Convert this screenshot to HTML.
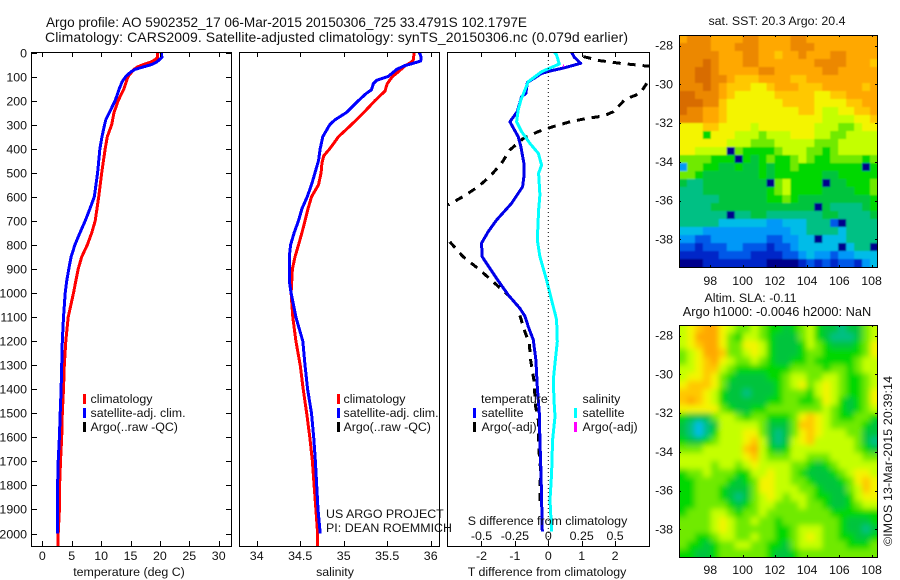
<!DOCTYPE html>
<html lang="en">
<head>
<meta charset="utf-8">
<title>Argo profile chart</title>
<style>
html,body{margin:0;padding:0;background:#fff;width:900px;height:580px;overflow:hidden}
svg{display:block;font-family:"Liberation Sans",sans-serif;font-size:12.4px;fill:#000}
text{fill:#111}
</style>
</head>
<body>
<svg id="chart" xmlns="http://www.w3.org/2000/svg" width="900" height="580" viewBox="0 0 900 580">
<defs>
<clipPath id="clip-tp"><rect x="32" y="52" width="199" height="494"/></clipPath>
<clipPath id="clip-sp"><rect x="239" y="52" width="200" height="494"/></clipPath>
<clipPath id="clip-dp"><rect x="447" y="52" width="202" height="494"/></clipPath>
<clipPath id="clip-sst"><rect x="679" y="35" width="199" height="232"/></clipPath>
<clipPath id="clip-sla"><rect x="679" y="325" width="199" height="232"/></clipPath>
<filter id="soften" x="-10%" y="-10%" width="120%" height="120%"><feGaussianBlur stdDeviation="3"/></filter>
<filter id="soften-light" x="-10%" y="-10%" width="120%" height="120%"><feGaussianBlur stdDeviation="0.8"/></filter>
</defs>
<g id="layer-heat"></g>
<g id="layer-lines"></g>
<g id="layer-axes"></g>

<text x="46" y="27" font-size="13.6" textLength="481" lengthAdjust="spacing">Argo profile: AO 5902352_17 06-Mar-2015 20150306_725 33.4791S 102.1797E</text>
<text x="45" y="42" font-size="14" textLength="583" lengthAdjust="spacing">Climatology: CARS2009. Satellite-adjusted climatology: synTS_20150306.nc (0.079d earlier)</text>

<text x="129" y="576" text-anchor="middle">temperature (deg C)</text>
<text x="335" y="576" text-anchor="middle">salinity</text>
<text x="547" y="576" text-anchor="middle">T difference from climatology</text>
<text x="547.5" y="525" text-anchor="middle">S difference from climatology</text>

<g>
<rect x="83" y="394" width="3" height="10" fill="#f00"/>
<text x="90.5" y="403">climatology</text>
<rect x="83" y="408" width="3" height="10" fill="#00f"/>
<text x="90.5" y="417">satellite-adj. clim.</text>
<rect x="83" y="422" width="3" height="10" fill="#000"/>
<text x="90.5" y="431">Argo(..raw -QC)</text>
</g>
<g>
<rect x="337" y="394" width="3" height="10" fill="#f00"/>
<text x="343.5" y="403">climatology</text>
<rect x="337" y="408" width="3" height="10" fill="#00f"/>
<text x="343.5" y="417">satellite-adj. clim.</text>
<rect x="337" y="422" width="3" height="10" fill="#000"/>
<text x="343.5" y="431">Argo(..raw -QC)</text>
</g>
<g>
<text x="481" y="403">temperature</text>
<rect x="473" y="408" width="3" height="10" fill="#00f"/>
<text x="481.5" y="417">satellite</text>
<rect x="473" y="422" width="3" height="10" fill="#000"/>
<text x="481.5" y="431">Argo(-adj)</text>
<text x="582.5" y="403">salinity</text>
<rect x="574" y="408" width="3" height="10" fill="#0ff"/>
<text x="582.5" y="417">satellite</text>
<rect x="574" y="422" width="3" height="10" fill="#f0f"/>
<text x="582.5" y="431">Argo(-adj)</text>
</g>

<text x="326" y="518">US ARGO PROJECT</text>
<text x="326" y="532" textLength="126" lengthAdjust="spacing">PI: DEAN ROEMMICH</text>

<text x="777" y="25" text-anchor="middle">sat. SST: 20.3 Argo: 20.4</text>
<text x="750.5" y="302" text-anchor="middle">Altim. SLA: -0.11</text>
<text x="777" y="316" text-anchor="middle" font-size="12.8">Argo h1000: -0.0046 h2000: NaN</text>
<text transform="translate(892,546) rotate(-90)" textLength="170" lengthAdjust="spacing">©IMOS 13-Mar-2015 20:39:14</text>
</svg>

<script>
// ---------- chart data ----------
const depthTicks = [0,100,200,300,400,500,600,700,800,900,1000,1100,1200,1300,1400,1500,1600,1700,1800,1900,2000];
const tempTicks = [0,5,10,15,20,25,30];
const tempTickLabels = ['0','5','10','15','20','25','30'];
const salTicks = [34,34.5,35,35.5,36];
const salTickLabels = ['34','34.5','35','35.5','36'];
const tDiffTicks = [-2,-1,0,1,2];
const tDiffTickLabels = ['-2','-1','0','1','2'];
const sDiffTicks = [-0.5,-0.25,0,0.25,0.5];
const sDiffTickLabels = ['-0.5','-0.25','0','0.25','0.5'];
const lonTicks = [98,100,102,104,106,108];
const latTicks = [-28,-30,-32,-34,-36,-38];

const climTempDepth = [0,20,30,40,50,60,70,100,150,200,250,300,350,400,500,600,700,750,800,850,900,950,1000,1100,1200,1300,1400,1500,1600,1700,1800,1900,2000,2052];
const climTempValue = [19.6,19.6,19.2,18.4,17.2,16.2,15.6,14.6,13.9,12.9,12.2,11.8,11.05,10.7,10.1,9.6,9.0,8.4,7.65,6.7,6.1,5.7,5.3,4.4,4.0,3.75,3.6,3.4,3.3,3.1,2.95,2.9,2.7,2.7];
const satTempDepth = [0,20,30,40,50,60,70,80,100,120,150,200,250,280,300,350,400,500,600,650,700,750,800,850,900,950,1000,1100,1200,1300,1400,1500,1600,1700,1800,1900,2000];
const satTempValue = [20.2,20.35,19.9,19.45,18.6,17.2,15.8,15.1,14.2,13.6,13.1,12.4,11.4,10.8,10.6,10.15,9.8,9.4,8.85,8.1,7.3,6.4,5.55,4.9,4.5,4.15,3.9,3.6,3.4,3.3,3.2,3.05,2.9,2.7,2.6,2.55,2.55];

const climSalDepth = [0,30,40,50,60,80,100,130,160,200,250,300,350,380,400,430,460,500,550,600,650,700,750,800,850,900,1000,1100,1200,1300,1400,1500,1600,1700,1800,1900,2000,2052];
const climSalValue = [35.81,35.8,35.78,35.73,35.69,35.63,35.56,35.5,35.475,35.36,35.23,35.09,34.94,34.88,34.84,34.77,34.75,34.74,34.71,34.63,34.59,34.555,34.52,34.48,34.44,34.41,34.395,34.415,34.45,34.5,34.535,34.575,34.61,34.64,34.66,34.68,34.7,34.7];
const satSalDepth = [0,20,35,45,55,70,100,115,130,155,170,200,250,280,300,350,400,450,500,550,600,650,700,750,800,850,950,1000,1100,1200,1300,1400,1500,1600,1700,1800,1900,2000];
const satSalValue = [35.87,35.89,35.885,35.8,35.7,35.61,35.51,35.38,35.34,35.32,35.26,35.17,35.03,34.9,34.84,34.76,34.73,34.71,34.67,34.63,34.58,34.52,34.48,34.43,34.39,34.375,34.375,34.395,34.45,34.53,34.555,34.585,34.63,34.655,34.675,34.69,34.705,34.73];

const argoTDiffDepthA = [17,34,45,52,60];
const argoTDiffValueA = [1.05,1.55,2.15,2.65,3.2];
const argoTDiffDepthB = [128,170,195,246,264,274,288,308,329,357,405,461,516,558,599,634];
const argoTDiffValueB = [2.95,2.75,2.3,1.95,1.65,1.15,0.65,0.15,-0.3,-0.75,-1.15,-1.4,-1.75,-2.1,-2.55,-3.0];
const argoTDiffDepthC = [787,849,904,960,1015,1064,1071,1161,1210,1279,1362,1473,1528,1653,1736,1819,1868];
const argoTDiffValueC = [-2.95,-2.55,-2.05,-1.6,-1.15,-0.85,-0.9,-0.7,-0.57,-0.53,-0.43,-0.38,-0.3,-0.28,-0.23,-0.25,-0.25];
const satTDiffDepth = [0,20,45,64,77,87,125,170,184,246,288,350,392,461,516,558,627,697,745,793,849,939,1008,1064,1096,1140,1195,1279,1390,1500,1611,1750,1860,1992];
const satTDiffValue = [0.7,0.78,0.97,0.47,0.05,-0.2,-0.63,-0.67,-0.8,-0.93,-1.15,-0.9,-0.82,-0.73,-0.73,-0.77,-1.1,-1.55,-1.8,-2.0,-1.98,-1.55,-1.2,-0.85,-0.7,-0.6,-0.45,-0.37,-0.33,-0.27,-0.25,-0.22,-0.2,-0.18];
const argoSDiffDepth = [50,60];
const argoSDiffValue = [0.112,0.112];
const satSDiffDepth = [0,7,48,80,121,156,197,239,288,329,378,419,468,502,592,655,779,849,946,1029,1085,1112,1202,1292,1361,1445,1514,1611,1750,1860,1992];
const satSDiffValue = [0.045,0.06,0.0825,-0.05,-0.15,-0.175,-0.205,-0.225,-0.2375,-0.2,-0.1375,-0.075,-0.05,-0.0725,-0.0625,-0.0725,-0.0825,-0.0625,-0.0125,0.025,0.05,0.0625,0.0675,0.05,0.0375,0.0425,0.05,0.0325,0.025,0.0125,0.025];

const colorLevels = ['#00008c','#0028c8','#0058e8','#0098f8','#00bce8','#00c084','#00c43c','#00d800','#70ea00','#c4ff00','#f4f400','#ffc800','#ffa800','#ec8800','#d86c00'];

const sstRow00 = [12,13,13,13,12,12,12,12,13,13,12,12,12,12,13,13,12,12,12,12,12,12,12,12,12];
const sstRow01 = [13,13,13,13,12,12,12,13,13,13,12,12,12,12,13,13,13,12,12,12,12,12,12,12,12];
const sstRow02 = [13,13,13,13,13,12,12,12,13,13,12,12,11,12,12,13,12,12,12,13,13,12,12,12,12];
const sstRow03 = [13,13,13,14,13,12,12,12,13,13,12,12,12,12,12,12,12,13,13,13,13,12,12,12,11];
const sstRow04 = [13,13,14,14,13,12,12,12,12,12,13,13,12,12,12,12,12,12,13,13,12,12,12,12,12];
const sstRow05 = [13,13,14,14,13,13,12,11,11,11,12,12,12,12,11,11,12,12,12,12,12,12,12,12,12];
const sstRow06 = [13,13,13,14,13,12,11,11,11,10,10,11,12,12,12,11,11,11,12,12,12,12,12,11,12];
const sstRow07 = [14,14,13,13,13,12,11,10,10,10,10,10,11,11,11,11,11,10,10,11,11,12,12,12,12];
const sstRow08 = [14,14,14,13,13,11,10,10,10,10,10,10,10,11,11,11,11,10,10,10,10,11,11,12,12];
const sstRow09 = [14,13,13,12,12,11,10,10,10,10,10,10,10,10,10,11,11,10,9,9,10,10,11,11,12];
const sstRow10 = [13,13,13,12,12,11,10,10,10,10,10,10,10,10,10,10,10,10,9,9,9,9,10,10,11];
const sstRow11 = [10,10,10,11,11,10,10,10,10,9,10,10,10,10,10,10,10,9,9,9,8,8,9,10,10];
const sstRow12 = [10,10,10,7,10,10,10,9,9,9,8,9,9,9,10,10,10,9,9,8,8,9,9,9,9];
const sstRow13 = [10,10,10,10,10,10,9,9,9,8,8,8,9,9,9,9,9,8,8,8,9,9,9,9,9];
const sstRow14 = [10,10,9,9,9,9,0,8,7,7,7,7,8,9,9,9,8,8,7,8,9,9,9,9,9];
const sstRow15 = [8,8,8,8,7,7,7,0,7,6,7,8,7,7,8,9,8,7,7,8,8,8,8,7,8];
const sstRow16 = [3,8,8,7,7,6,6,7,6,6,7,6,7,7,8,7,7,7,7,7,7,7,7,0,7];
const sstRow17 = [8,8,7,6,6,6,6,6,6,6,7,6,7,7,7,7,7,7,6,6,7,7,7,7,7];
const sstRow18 = [6,5,5,6,6,6,6,6,6,6,6,0,8,9,7,7,7,7,0,6,6,7,7,7,8];
const sstRow19 = [5,5,5,6,6,6,6,6,6,6,6,7,8,9,7,7,7,7,6,6,6,6,7,7,8];
const sstRow20 = [5,5,5,5,5,6,6,6,6,6,6,7,7,8,7,6,6,6,6,6,6,6,6,6,7];
const sstRow21 = [5,5,5,5,6,6,6,6,6,6,6,6,6,6,6,6,6,0,6,5,5,5,5,6,7];
const sstRow22 = [5,5,5,5,5,5,0,5,5,6,6,5,5,5,5,5,5,5,6,6,5,5,5,5,6];
const sstRow23 = [5,5,5,5,5,4,4,4,4,4,4,3,3,4,4,4,5,5,5,2,0,5,5,5,5];
const sstRow24 = [4,4,4,3,3,3,3,3,3,3,3,3,3,3,4,4,5,5,5,5,4,5,5,5,5];
const sstRow25 = [3,3,2,2,3,3,3,3,3,3,3,2,2,3,3,4,4,0,4,4,4,5,5,5,5];
const sstRow26 = [2,2,1,2,2,2,3,3,2,2,2,1,2,2,3,4,4,4,4,4,0,4,5,5,0];
const sstRow27 = [1,1,1,1,1,2,2,2,2,1,1,1,1,2,2,3,4,3,3,2,3,3,4,4,4];
const sstRow28 = [0,0,0,1,1,1,1,1,1,1,1,0,0,0,0,1,2,1,2,1,2,2,1,3,4];
const sstGrid = [sstRow00,sstRow01,sstRow02,sstRow03,sstRow04,sstRow05,sstRow06,sstRow07,sstRow08,sstRow09,sstRow10,sstRow11,sstRow12,sstRow13,sstRow14,sstRow15,sstRow16,sstRow17,sstRow18,sstRow19,sstRow20,sstRow21,sstRow22,sstRow23,sstRow24,sstRow25,sstRow26,sstRow27,sstRow28];

const slaRow00 = [9,10,11,12,12,10,9,8,8,9,8,7,7,6,7,8,9,7,6,6,5,6,6,8,9];
const slaRow01 = [9,10,12,12,12,10,8,7,9,9,8,7,6,6,6,8,9,7,6,5,5,5,6,8,9];
const slaRow02 = [9,10,11,12,12,10,8,8,10,10,9,7,6,6,6,7,9,8,7,6,6,6,7,8,10];
const slaRow03 = [8,9,10,12,12,11,8,8,9,10,9,7,6,6,6,7,8,8,7,7,7,7,7,8,10];
const slaRow04 = [8,9,10,11,12,10,9,8,8,9,8,7,6,6,7,7,8,7,7,7,7,7,8,9,9];
const slaRow05 = [9,9,10,11,11,9,8,7,7,7,7,7,7,7,8,8,8,8,7,8,8,7,8,9,9];
const slaRow06 = [9,10,10,11,10,8,7,6,6,6,6,7,7,8,9,9,8,8,9,9,8,7,7,8,9];
const slaRow07 = [10,11,11,11,10,8,6,6,6,6,6,6,7,8,9,10,8,9,10,9,8,7,7,8,9];
const slaRow08 = [11,11,11,10,9,7,6,6,5,6,6,6,7,8,8,8,7,9,10,9,8,7,7,8,10];
const slaRow09 = [11,12,11,10,9,7,6,6,6,6,6,7,7,8,8,7,7,8,10,9,7,6,7,8,10];
const slaRow10 = [10,10,10,10,10,8,7,6,6,7,7,8,8,8,8,8,8,8,9,8,7,6,7,8,9];
const slaRow11 = [7,6,6,6,8,9,9,8,7,8,8,7,7,7,8,10,11,10,9,8,7,7,8,8,7];
const slaRow12 = [6,5,4,5,6,9,9,9,9,9,8,6,6,6,8,11,11,10,9,8,8,8,8,7,6];
const slaRow13 = [6,5,4,5,7,9,9,9,10,10,8,6,5,6,8,10,11,10,9,9,9,8,8,6,6];
const slaRow14 = [7,6,6,7,8,9,9,9,10,11,9,6,5,6,9,10,11,9,9,9,9,9,8,6,5];
const slaRow15 = [8,8,8,9,9,9,9,9,11,12,9,7,6,7,9,9,9,9,9,9,9,9,8,7,6];
const slaRow16 = [9,9,9,9,9,9,9,9,10,11,9,8,8,8,9,9,8,8,8,9,9,9,9,8,8];
const slaRow17 = [9,9,9,9,8,9,9,8,9,10,9,9,9,9,8,8,7,6,7,8,9,9,9,9,9];
const slaRow18 = [7,8,8,9,8,8,8,7,7,9,9,10,9,9,8,7,6,6,6,7,8,9,10,10,9];
const slaRow19 = [7,7,8,8,8,8,7,6,7,8,10,10,9,9,8,8,7,6,6,6,7,8,10,11,10];
const slaRow20 = [7,7,8,8,8,7,6,6,6,8,10,10,9,9,9,8,8,7,6,6,6,8,9,11,10];
const slaRow21 = [7,7,8,8,8,7,6,5,6,8,9,10,9,8,9,9,8,7,7,6,6,7,9,10,10];
const slaRow22 = [7,7,8,8,8,8,7,6,7,8,9,9,8,8,8,9,8,8,7,6,6,7,8,9,9];
const slaRow23 = [7,8,8,8,9,9,8,7,8,8,9,8,8,8,8,8,8,8,8,7,7,7,7,7,7];
const slaRow24 = [8,8,8,8,9,10,9,8,8,9,8,8,7,8,8,8,8,8,8,8,7,6,6,6,7];
const slaRow25 = [8,8,8,8,9,10,9,8,8,8,8,8,7,7,8,9,9,9,8,8,7,6,6,5,6];
const slaRow26 = [8,8,7,7,8,9,9,8,8,9,8,8,7,7,8,9,10,9,8,8,7,7,6,6,7];
const slaRow27 = [8,7,7,6,7,8,8,9,9,8,8,7,7,6,8,9,9,9,8,8,8,7,7,7,8];
const slaRow28 = [7,7,6,6,7,8,8,8,8,8,8,7,6,6,7,8,8,8,8,8,8,8,8,8,8];
const slaGrid = [slaRow00,slaRow01,slaRow02,slaRow03,slaRow04,slaRow05,slaRow06,slaRow07,slaRow08,slaRow09,slaRow10,slaRow11,slaRow12,slaRow13,slaRow14,slaRow15,slaRow16,slaRow17,slaRow18,slaRow19,slaRow20,slaRow21,slaRow22,slaRow23,slaRow24,slaRow25,slaRow26,slaRow27,slaRow28];

// ---------- axis functions ----------
const NS = 'http://www.w3.org/2000/svg';
const yDepth = d => 52.5 + d * 0.2405;
const xTemp = t => 42.3 + t * 5.88;
const xSal = s => 256.7 + (s - 34) * 87;
const xTDiff = t => 548.3 + t * 33.4;
const xSDiff = s => 548.3 + s * 133.6;
const xLon = lon => 710.3 + (lon - 98) * 16.13;
const yLatSst = lat => 45.7 + (-28 - lat) * 19.36;
const yLatSla = lat => 335.7 + (-28 - lat) * 19.36;

function mk(tag, parent, attrs, txt) {
  const el = document.createElementNS(NS, tag);
  for (const k in attrs) el.setAttribute(k, attrs[k]);
  if (txt !== undefined) el.textContent = txt;
  parent.appendChild(el);
  return el;
}
const lines = document.getElementById('layer-lines');
const axes = document.getElementById('layer-axes');
const heat = document.getElementById('layer-heat');

function drawSeries(name, clip, depths, values, xf, color, width, dash) {
  const pts = depths.map((d, i) => xf(values[i]).toFixed(1) + ',' + yDepth(d).toFixed(1)).join(' ');
  const attrs = {points: pts, fill: 'none', stroke: color, 'stroke-width': width, 'clip-path': 'url(#' + clip + ')', 'stroke-linejoin': 'round', 'shape-rendering': 'crispEdges'};
  if (dash) attrs['stroke-dasharray'] = dash;
  const el = mk('polyline', lines, attrs);
  
  
}
drawSeries('climatology-temperature-line', 'clip-tp', climTempDepth, climTempValue, xTemp, '#f00', 3);
drawSeries('satellite-temperature-line', 'clip-tp', satTempDepth, satTempValue, xTemp, '#00f', 3);
drawSeries('climatology-salinity-line', 'clip-sp', climSalDepth, climSalValue, xSal, '#f00', 3);
drawSeries('satellite-salinity-line', 'clip-sp', satSalDepth, satSalValue, xSal, '#00f', 3);
drawSeries('argo-t-difference-upper-line', 'clip-dp', argoTDiffDepthA, argoTDiffValueA, xTDiff, '#000', 3, '8 7');
drawSeries('argo-t-difference-middle-line', 'clip-dp', argoTDiffDepthB, argoTDiffValueB, xTDiff, '#000', 3, '8 7');
drawSeries('argo-t-difference-lower-line', 'clip-dp', argoTDiffDepthC, argoTDiffValueC, xTDiff, '#000', 3, '8 7');
drawSeries('satellite-t-difference-line', 'clip-dp', satTDiffDepth, satTDiffValue, xTDiff, '#0000e8', 3);
drawSeries('satellite-s-difference-line', 'clip-dp', satSDiffDepth, satSDiffValue, xSDiff, '#0ff', 3);
drawSeries('argo-s-difference-line', 'clip-dp', argoSDiffDepth, argoSDiffValue, xSDiff, '#f0f', 1);

const zeroLine = mk('line', lines, {x1: xTDiff(0), x2: xTDiff(0), y1: 52, y2: 546, stroke: '#000', 'stroke-width': 1, 'stroke-dasharray': '1 3'});



function drawFrame(name, x, y, w, h, sides) {
  const g = mk('g', axes, {stroke: '#000', 'stroke-width': 1, 'shape-rendering': 'crispEdges', fill: 'none'});
  
  
  mk('rect', g, {x: x + 0.5, y: y + 0.5, width: w, height: h});
  return g;
}
function tick(g, x1, y1, x2, y2) {
  const t = mk('line', g, {x1: x1, y1: y1, x2: x2, y2: y2});
  
  
}
function label(x, y, anchor, txt) {
  const t = mk('text', axes, {x: x, y: y, 'text-anchor': anchor}, txt);
  
  
}

// temperature panel
const tempFrame = drawFrame('temperature-axes', 31, 52, 200, 494);
depthTicks.forEach(d => {
  const y = Math.round(yDepth(d)) + 0.5;
  tick(tempFrame, 32, y, 37, y);
  tick(tempFrame, 231, y, 226, y);
  label(27, y + 4, 'end', String(d));
});
tempTicks.forEach((t, i) => {
  const x = Math.round(xTemp(t)) + 0.5;
  tick(tempFrame, x, 52, x, 57);
  tick(tempFrame, x, 546, x, 541);
  label(xTemp(t), 560, 'middle', tempTickLabels[i]);
});

// salinity panel
const salFrame = drawFrame('salinity-axes', 239, 52, 200, 494);
salTicks.forEach((s, i) => {
  const x = Math.round(xSal(s)) + 0.5;
  tick(salFrame, x, 52, x, 57);
  tick(salFrame, x, 546, x, 541);
  label(xSal(s), 560, 'middle', salTickLabels[i]);
});

// difference panel
const diffFrame = drawFrame('difference-axes', 447, 52, 202, 494);
tDiffTicks.forEach((t, i) => {
  const x = Math.round(xTDiff(t)) + 0.5;
  tick(diffFrame, x, 52, x, 57);
  tick(diffFrame, x, 546, x, 541);
  label(xTDiff(t), 560, 'middle', tDiffTickLabels[i]);
});
sDiffTicks.forEach((s, i) => {
  label(xSDiff(s), 540, 'middle', sDiffTickLabels[i]);
});

// heat maps
function drawHeat(name, grid, x0, y0, w, h, clip, filter) {
  const outer = mk('g', heat, {'clip-path': 'url(#' + clip + ')'});
  
  
  const g = mk('g', outer, filter ? {filter: 'url(#' + filter + ')'} : {'shape-rendering': 'crispEdges'});
  const rows = grid.length;
  grid.forEach((row, r) => {
    const cols = row.length;
    row.forEach((v, c) => {
      const cw = w / cols, ch = h / rows;
      let x = x0 + c * cw, y = y0 + r * ch, rw = cw + 0.5, rh = ch + 0.5;
      if (c === 0) { x -= 14; rw += 14; }
      if (c === cols - 1) rw += 14;
      if (r === 0) { y -= 14; rh += 14; }
      if (r === rows - 1) rh += 14;
      const cell = mk('rect', g, {x: x.toFixed(2), y: y.toFixed(2), width: rw.toFixed(2), height: rh.toFixed(2), fill: colorLevels[Math.max(0, Math.min(colorLevels.length - 1, Math.round(v)))]});
      
      
    });
  });
}
drawHeat('sst-map', sstGrid, 679, 35, 199, 232, 'clip-sst', 'soften-light');
drawHeat('sla-map', slaGrid, 679, 325, 199, 232, 'clip-sla', 'soften');

function drawMapAxes(name, y0, h, yf, labelY) {
  const f = drawFrame(name, 679, y0, 198, h);
  lonTicks.forEach(lon => {
    const x = Math.round(xLon(lon)) + 0.5;
    tick(f, x, y0, x, y0 + 2);
    tick(f, x, y0 + h, x, y0 + h - 2);
    label(xLon(lon), labelY, 'middle', String(lon));
  });
  latTicks.forEach(lat => {
    const y = Math.round(yf(lat)) + 0.5;
    tick(f, 679, y, 681, y);
    tick(f, 877, y, 875, y);
    label(673, yf(lat) + 4, 'end', String(lat));
  });
}
drawMapAxes('sst-map-axes', 35, 232, yLatSst, 285);
drawMapAxes('sla-map-axes', 325, 232, yLatSla, 574);
</script>
</body>
</html>
